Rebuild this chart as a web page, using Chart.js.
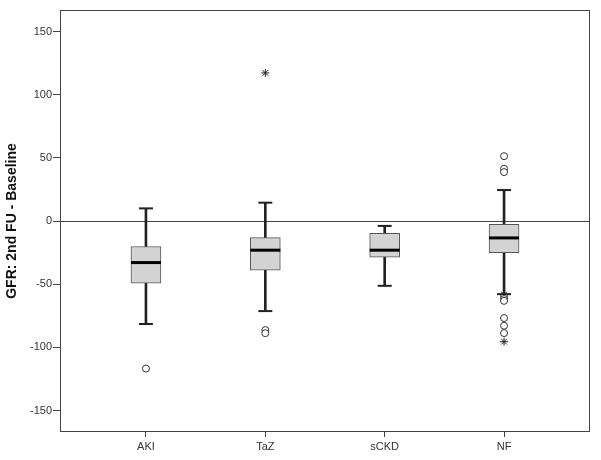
<!DOCTYPE html>
<html>
<head>
<meta charset="utf-8">
<script src="https://cdn.jsdelivr.net/npm/chart.js@4/dist/chart.umd.min.js"></script>
<style>
  body { margin: 0; background: #fff; }
  #wrap { width: 601px; height: 460px; }
</style>
</head>
<body>
<div id="wrap"><canvas id="c"></canvas></div>
<script>
// groups and box statistics
const cats = ["AKI", "TaZ", "sCKD", "NF"];
const whiskerLow = [-81.5, -71.3, -51.3, -57.9];
const q1 = [-49.2, -38.9, -28.7, -25.0];
const median = [-32.9, -23.1, -23.1, -13.4];
const q3 = [-20.2, -13.1, -9.7, -2.6];
const whiskerHigh = [10, 14.5, -3.9, 24.5];
// outliers (circles) and extremes (stars), per group
const outliers = [[-116.8], [-86.3, -88.8], [], [51.3, 41.4, 38.7, -59.8, -61.8, -63.2, -76.8, -82.9, -88.7]];
const extremes = [[], [117.2], [], [-58.2, -95.5]];
const yTicks = [-150, -100, -50, 0, 50, 100, 150];

const xs = cats.map((c, i) => i + 1);
const pts = (arr) => arr.flatMap((vals, i) => vals.map(v => ({ x: i + 1, y: v })));

const frame = {
  id: "frame",
  afterDatasetsDraw(chart) {
    const { ctx, chartArea: a } = chart;
    ctx.save();
    ctx.strokeStyle = "#444";
    ctx.lineWidth = 1;
    ctx.strokeRect(a.left + 0.5, a.top + 0.5, a.right - a.left - 1, a.bottom - a.top - 1);
    ctx.restore();
  }
};

new Chart(document.getElementById("c"), {
  type: "bar",
  data: {
    datasets: [
      {
        type: "scatter", label: "median", order: 0,
        data: xs.map((x, i) => ({ x, y: median[i] })),
        pointStyle: "line", radius: 15, borderWidth: 3, borderColor: "#000", hoverRadius: 15
      },
      {
        type: "scatter", label: "caps", order: 1,
        data: xs.flatMap((x, i) => [{ x, y: whiskerLow[i] }, { x, y: whiskerHigh[i] }]),
        pointStyle: "line", radius: 7, borderWidth: 2, borderColor: "#222"
      },
      {
        type: "scatter", label: "outliers", order: 1,
        data: pts(outliers),
        pointStyle: "circle", radius: 3.5, borderWidth: 1, borderColor: "#333", backgroundColor: "#fff"
      },
      {
        type: "scatter", label: "extremes", order: 1,
        data: pts(extremes),
        pointStyle: "star", radius: 4, borderWidth: 1, borderColor: "#222"
      },
      {
        label: "box", order: 2, grouped: false,
        data: xs.map((x, i) => ({ x, y: [q1[i], q3[i]] })),
        barThickness: 30, backgroundColor: "#d3d3d3", borderColor: "#555",
        borderWidth: 1, borderSkipped: false
      },
      {
        label: "whisker low", order: 3, grouped: false,
        data: xs.map((x, i) => ({ x, y: [whiskerLow[i], q1[i]] })),
        barThickness: 2, backgroundColor: "#222", borderWidth: 0
      },
      {
        label: "whisker high", order: 3, grouped: false,
        data: xs.map((x, i) => ({ x, y: [q3[i], whiskerHigh[i]] })),
        barThickness: 2, backgroundColor: "#222", borderWidth: 0
      }
    ]
  },
  options: {
    responsive: true,
    maintainAspectRatio: false,
    animation: false,
    layout: { autoPadding: false, padding: { top: 10, right: 11, left: 0, bottom: 0 } },
    plugins: { legend: { display: false }, tooltip: { enabled: false } },
    scales: {
      x: {
        type: "linear", min: 0.28, max: 4.72, offset: false,
        afterBuildTicks: (s) => { s.ticks = xs.map(v => ({ value: v })); },
        afterFit: (s) => { s.height = 28; },
        grid: { offset: false, drawOnChartArea: false, tickLength: 5, tickColor: "#444" },
        border: { display: false },
        ticks: {
          callback: (v) => cats[v - 1],
          color: "#333", padding: 3,
          font: { family: "Liberation Sans, Arial", size: 11 }
        }
      },
      y: {
        min: -167, max: 167,
        afterBuildTicks: (s) => { s.ticks = yTicks.map(v => ({ value: v })); },
        afterFit: (s) => { s.width = 60; },
        grid: {
          color: (c) => (c.tick && c.tick.value === 0 ? "#444" : "rgba(0,0,0,0)"),
          tickLength: 7, tickColor: "#444"
        },
        border: { display: false },
        ticks: {
          color: "#333", padding: 1,
          font: { family: "Liberation Sans, Arial", size: 11 }
        },
        title: {
          display: true, text: "GFR: 2nd FU - Baseline", color: "#111",
          padding: { top: 4, bottom: 0 },
          font: { family: "Liberation Sans, Arial", size: 14, weight: "bold" }
        }
      }
    }
  },
  plugins: [frame]
});
</script>
</body>
</html>
